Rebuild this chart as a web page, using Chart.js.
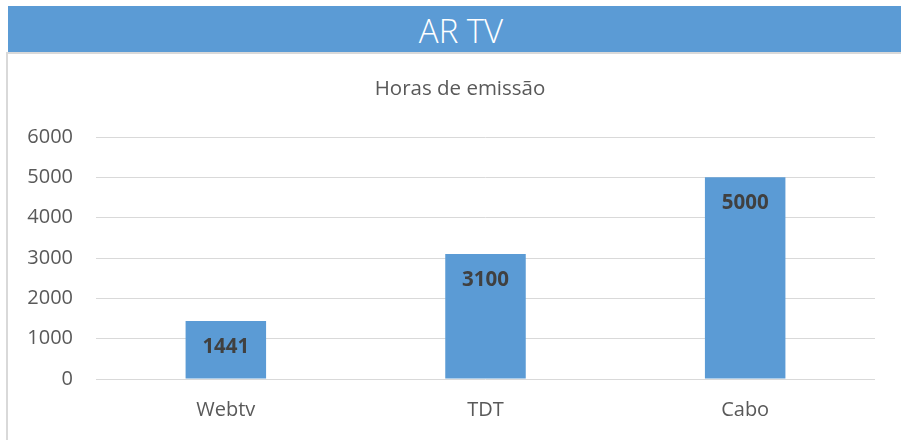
<!DOCTYPE html>
<html>
<head>
<meta charset="utf-8">
<script src="https://cdn.jsdelivr.net/npm/chart.js@4.4.0/dist/chart.umd.min.js"></script>
<style>
  html, body { margin: 0; padding: 0; background: #ffffff; width: 901px; height: 440px; overflow: hidden; }
  #band { position: absolute; left: 8px; top: 6px; width: 893px; height: 46px; background: #5B9BD5;
          color: #ffffff; font-family: "Open Sans", sans-serif; font-weight: 300; font-size: 33px;
          text-align: center; line-height: 50px; box-sizing: border-box; padding-left: 13px; }
  #frame { position: absolute; left: 6px; top: 52px; width: 895px; height: 388px;
           border-left: 2px solid #d9d9d9; border-top: 2px solid #d9d9d9; box-sizing: border-box; }
  #wrap { position: absolute; left: 8px; top: 54px; width: 893px; height: 386px; }
</style>
</head>
<body>
<div id="band">AR TV</div>
<div id="frame"></div>
<div id="wrap"><canvas id="c"></canvas></div>
<script>
const categories = ["Webtv", "TDT", "Cabo"];
const hours = [1441, 3100, 5000];
const yTicks = [0, 1000, 2000, 3000, 4000, 5000, 6000];
const chartTitle = "Horas de emissão";

const labelPlugin = {
  id: "barLabels",
  afterDatasetsDraw(chart) {
    const ctx = chart.ctx;
    const meta = chart.getDatasetMeta(0);
    ctx.save();
    ctx.font = "bold 20.5px 'Open Sans', sans-serif";
    ctx.fillStyle = "#404040";
    ctx.textAlign = "center";
    ctx.textBaseline = "middle";
    meta.data.forEach((bar, i) => {
      ctx.fillText(String(chart.data.datasets[0].data[i]), bar.x, bar.y + 26);
    });
    // chart title, centred on the whole chart frame
    ctx.font = "20.5px 'Open Sans', sans-serif";
    ctx.fillStyle = "#595959";
    ctx.fillText(chartTitle, 452, 35);
    ctx.restore();
  }
};

new Chart(document.getElementById("c"), {
  type: "bar",
  data: {
    labels: categories,
    datasets: [{
      data: hours,
      backgroundColor: "#5B9BD5",
      borderWidth: 0,
      barPercentage: 0.62,
      categoryPercentage: 0.5
    }]
  },
  options: {
    responsive: true,
    maintainAspectRatio: false,
    animation: false,
    layout: { padding: { left: 0, right: 26, top: 83, bottom: 0 } },
    plugins: {
      legend: { display: false },
      tooltip: { enabled: false },
      title: { display: false }
    },
    scales: {
      x: {
        grid: { display: false, drawTicks: false },
        border: { display: false },
        ticks: { color: "#595959", font: { family: "'Open Sans', sans-serif", size: 20 }, padding: 19 },
        afterFit(s) { s.height = 61; }
      },
      y: {
        min: 0, max: 6000,
        afterBuildTicks(s) { s.ticks = yTicks.map(v => ({ value: v })); },
        grid: { color: "#d9d9d9", lineWidth: 1, drawTicks: false },
        border: { display: false },
        ticks: {
          color: "#595959",
          font: { family: "'Open Sans', sans-serif", size: 20 },
          padding: 23,
          callback: (v) => String(v)
        },
        afterFit(s) { s.width = 88; }
      }
    }
  },
  plugins: [labelPlugin]
});
</script>
</body>
</html>
